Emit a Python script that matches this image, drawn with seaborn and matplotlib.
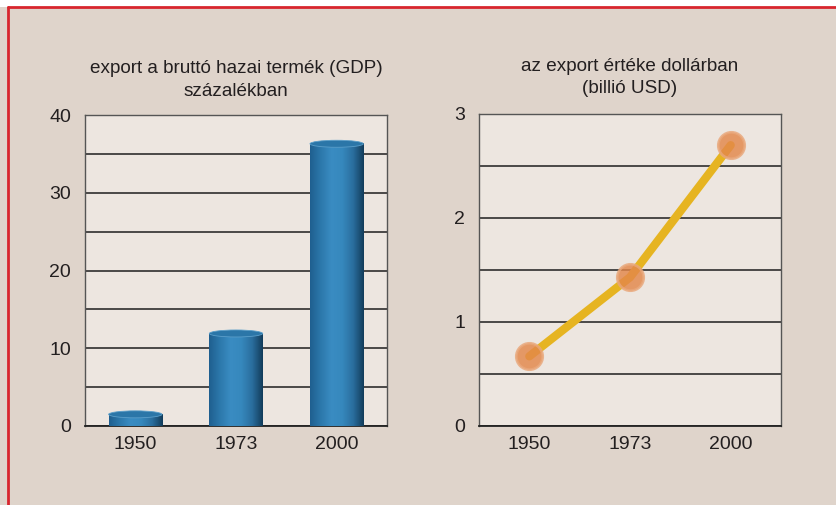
import numpy as np
import pandas as pd
import seaborn as sns
import matplotlib.pyplot as plt
from matplotlib.patches import Rectangle, Ellipse
from matplotlib.colors import LinearSegmentedColormap

# data
years = ['1950', '1973', '2000']
gdp_share = [1.5, 11.9, 36.3]      # export as % of GDP
export_usd = [0.67, 1.43, 2.70]    # export value, trillion USD

title_left = 'export a bruttó hazai termék (GDP)\nszázalékban'
title_right = 'az export értéke dollárban\n(billió USD)'

df_bar = pd.DataFrame({'year': years, 'share': gdp_share})
df_line = pd.DataFrame({'year': years, 'usd': export_usd})

sns.set_style('white')
plt.rcParams['font.family'] = ['Liberation Sans', 'DejaVu Sans']

fig_bg = '#dfd4cb'
ax_bg = '#ede6e0'

fig = plt.figure(figsize=(8.36, 5.05), dpi=100, facecolor=fig_bg)
ax1 = fig.add_axes([85/836, 1-426/505, 302/836, 311/505])
ax2 = fig.add_axes([479/836, 1-426/505, 302/836, 312/505])

# red frame top/left, white above
fig.patches.append(Rectangle((0, 1-7/505), 1, 7/505, transform=fig.transFigure,
                             facecolor='white', edgecolor='none', zorder=-1))
fig.add_artist(plt.Line2D([8/836, 8/836], [0, 1-7/505], color='#d8262e', lw=2))
fig.add_artist(plt.Line2D([8/836, 1], [1-7/505, 1-7/505], color='#d8262e', lw=2))

def style_axis(ax, ymax, step):
    ax.set_facecolor(ax_bg)
    ax.set_xlim(-0.5, 2.5)
    ax.set_ylim(0, ymax)
    ax.set_xticks([-0.5, 0.5, 1.5, 2.5])
    ax.set_xticklabels([])
    ax.set_xticks([0, 1, 2], minor=True)
    ax.set_xticklabels(years, minor=True, fontsize=14, color='#231f20')
    ax.tick_params(axis='x', which='major', length=5, width=1, color='#444444', direction='out')
    ax.tick_params(axis='x', which='minor', length=0, pad=7)
    ax.set_yticks(np.arange(0, ymax + step / 2, step))
    ax.set_yticks(np.arange(step / 2, ymax, step), minor=True)
    ax.tick_params(axis='y', which='both', length=4, width=1, color='#222222', direction='out')
    ax.tick_params(axis='y', labelsize=14, labelcolor='#231f20', pad=6)
    ax.yaxis.grid(True, which='both', color='#1e1e1e', lw=1.1)
    ax.set_axisbelow(True)
    for s in ['left', 'right', 'top']:
        ax.spines[s].set_color('#555555')
        ax.spines[s].set_linewidth(1)
    ax.spines['bottom'].set_color('#222222')
    ax.spines['bottom'].set_linewidth(1.3)
    ax.set_xlabel('')
    ax.set_ylabel('')

# left: cylinders
sns.barplot(data=df_bar, x='year', y='share', color='#2f7fb2', width=0.53, ax=ax1,
            saturation=1)
style_axis(ax1, 40, 10)
ax1.set_yticks([0, 10, 20, 30, 40])
cyl = LinearSegmentedColormap.from_list('cyl', ['#1f5f8f', '#2c78ab', '#3a8cc2', '#3688bd',
                                                 '#2a6e9e', '#123c5a'])
grad = np.linspace(0, 1, 256).reshape(1, -1)
for p in list(ax1.patches):
    x0, w, h = p.get_x(), p.get_width(), p.get_height()
    ax1.imshow(grad, cmap=cyl, aspect='auto', extent=(x0, x0 + w, -0.4, h), zorder=3)
    p.set_visible(False)
    ax1.add_patch(Ellipse((x0 + w / 2, -0.4), w, 1.0, facecolor='#1f5f8f',
                          edgecolor='none', zorder=2.9))
    ax1.add_patch(Ellipse((x0 + w / 2, h), w, 0.9, facecolor='#2b76a8',
                          edgecolor='#5b9ec9', lw=0.6, zorder=3.1))
ax1.set_xlim(-0.5, 2.5)
ax1.set_ylim(0, 40)
ax1.set_title(title_left, fontsize=13.6, color='#231f20', pad=14, linespacing=1.4)

# right: line
sns.lineplot(data=df_line, x='year', y='usd', color='#e6b421', lw=6, ax=ax2,
             solid_capstyle='round', zorder=3)
ax2.scatter(range(len(years)), export_usd, s=360, color='#e3874a', alpha=0.82,
            edgecolor='#e9a77a', linewidth=2, zorder=4)
style_axis(ax2, 3, 1)
ax2.set_title(title_right, fontsize=13.6, color='#231f20', pad=15, linespacing=1.4)

fig.savefig('out.png', dpi=100, facecolor=fig_bg)
